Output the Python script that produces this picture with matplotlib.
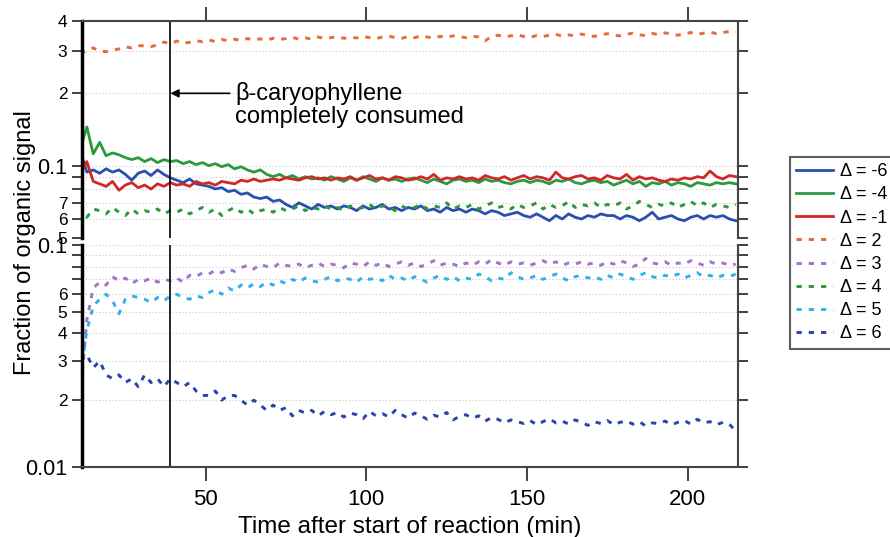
import numpy as np
import matplotlib
matplotlib.use("Agg")
import matplotlib.pyplot as plt
from matplotlib.ticker import FixedLocator, FixedFormatter, NullLocator

plt.rcParams['font.family'] = ['Liberation Sans', 'DejaVu Sans']

# time axis (min)
t = np.arange(11, 216, 2)

d_m6 = [0.115, 0.094, 0.096, 0.093, 0.097, 0.094, 0.096, 0.092, 0.087, 0.093,
        0.095, 0.091, 0.096, 0.092, 0.089, 0.087, 0.085, 0.088, 0.084, 0.083,
        0.082, 0.080, 0.081, 0.078, 0.079, 0.076, 0.077, 0.074, 0.073, 0.074,
        0.071, 0.072, 0.069, 0.067, 0.070, 0.068, 0.066, 0.069, 0.067, 0.068,
        0.066, 0.068, 0.067, 0.065, 0.068, 0.066, 0.067, 0.069, 0.066, 0.067,
        0.065, 0.067, 0.066, 0.068, 0.065, 0.066, 0.064, 0.067, 0.065, 0.066,
        0.064, 0.066, 0.065, 0.063, 0.065, 0.064, 0.062, 0.063, 0.064, 0.062,
        0.061, 0.063, 0.061, 0.059, 0.062, 0.060, 0.063, 0.061, 0.060, 0.062,
        0.061, 0.063, 0.062, 0.062, 0.060, 0.062, 0.061, 0.059, 0.061, 0.064,
        0.060, 0.061, 0.062, 0.060, 0.059, 0.061, 0.062, 0.060, 0.062, 0.061,
        0.062, 0.060, 0.059]
d_m4 = [0.118, 0.145, 0.112, 0.125, 0.110, 0.113, 0.111, 0.108, 0.106, 0.108,
        0.104, 0.107, 0.103, 0.106, 0.104, 0.105, 0.102, 0.104, 0.101, 0.103,
        0.100, 0.102, 0.099, 0.101, 0.097, 0.099, 0.096, 0.094, 0.096, 0.092,
        0.090, 0.092, 0.089, 0.091, 0.088, 0.090, 0.088, 0.089, 0.087, 0.090,
        0.088, 0.086, 0.089, 0.087, 0.090, 0.088, 0.086, 0.089, 0.087, 0.088,
        0.086, 0.088, 0.089, 0.087, 0.085, 0.088, 0.086, 0.084, 0.087, 0.088,
        0.086, 0.087, 0.085, 0.088, 0.086, 0.087, 0.085, 0.084, 0.086, 0.087,
        0.085, 0.087, 0.086, 0.084, 0.087, 0.086, 0.088, 0.085, 0.084, 0.086,
        0.087, 0.085, 0.086, 0.083, 0.085, 0.087, 0.084, 0.086, 0.082, 0.085,
        0.084, 0.086, 0.083, 0.085, 0.084, 0.082, 0.085, 0.084, 0.083, 0.085,
        0.084, 0.085, 0.084]
d_m1 = [0.092, 0.104, 0.086, 0.084, 0.082, 0.086, 0.079, 0.083, 0.085, 0.081,
        0.083, 0.080, 0.084, 0.082, 0.085, 0.083, 0.084, 0.082, 0.086, 0.084,
        0.085, 0.083, 0.086, 0.085, 0.084, 0.087, 0.086, 0.088, 0.086, 0.087,
        0.088, 0.087, 0.089, 0.088, 0.087, 0.089, 0.090, 0.088, 0.089, 0.087,
        0.089, 0.088, 0.090, 0.087, 0.089, 0.091, 0.088, 0.089, 0.087, 0.090,
        0.089, 0.087, 0.088, 0.090, 0.088, 0.092, 0.087, 0.089, 0.088, 0.090,
        0.088, 0.089, 0.087, 0.091, 0.089, 0.088, 0.090, 0.087, 0.089, 0.091,
        0.088, 0.090, 0.089, 0.087, 0.094, 0.089, 0.088, 0.090, 0.091, 0.088,
        0.089, 0.087, 0.091, 0.089, 0.088, 0.092, 0.087, 0.090, 0.088, 0.089,
        0.087, 0.086, 0.088, 0.087, 0.089, 0.088, 0.090, 0.089, 0.095, 0.090,
        0.088, 0.091, 0.090]
d_2 = [0.292, 0.302, 0.309, 0.300, 0.298, 0.303, 0.306, 0.312, 0.309, 0.316,
       0.315, 0.313, 0.318, 0.327, 0.322, 0.330, 0.323, 0.326, 0.331, 0.328,
       0.333, 0.329, 0.335, 0.331, 0.336, 0.332, 0.338, 0.334, 0.337, 0.333,
       0.339, 0.335, 0.338, 0.342, 0.336, 0.340, 0.337, 0.343, 0.338, 0.341,
       0.344, 0.339, 0.342, 0.340, 0.345, 0.341, 0.338, 0.343, 0.346, 0.341,
       0.339, 0.344, 0.341, 0.346, 0.343, 0.340, 0.345, 0.342, 0.347, 0.344,
       0.341, 0.346, 0.343, 0.331, 0.345, 0.349, 0.344, 0.347, 0.350, 0.345,
       0.342, 0.348, 0.345, 0.349, 0.352, 0.346, 0.350, 0.347, 0.353, 0.348,
       0.345, 0.351, 0.354, 0.349, 0.347, 0.352, 0.356, 0.350, 0.348, 0.355,
       0.351, 0.357, 0.353, 0.349, 0.355, 0.358, 0.352, 0.356, 0.360, 0.354,
       0.358, 0.362, 0.360]
d_3 = [0.021, 0.046, 0.064, 0.068, 0.066, 0.072, 0.069, 0.071, 0.067, 0.070,
       0.069, 0.071, 0.068, 0.070, 0.069, 0.071, 0.068, 0.073, 0.072, 0.075,
       0.074, 0.077, 0.075, 0.078, 0.076, 0.079, 0.081, 0.078, 0.082, 0.080,
       0.079, 0.083, 0.081, 0.080, 0.082, 0.079, 0.081, 0.083, 0.080, 0.082,
       0.081, 0.079, 0.083, 0.082, 0.080, 0.084, 0.081, 0.083, 0.080, 0.082,
       0.084, 0.081, 0.083, 0.080, 0.082, 0.085, 0.081, 0.083, 0.082, 0.080,
       0.083, 0.081, 0.084, 0.082, 0.086, 0.083, 0.081, 0.084, 0.082, 0.083,
       0.081, 0.083, 0.085, 0.082, 0.084, 0.081, 0.083, 0.082, 0.084, 0.082,
       0.083, 0.081, 0.084, 0.082, 0.085, 0.083, 0.080, 0.082, 0.087, 0.083,
       0.082, 0.084, 0.081, 0.083, 0.082, 0.085, 0.083, 0.081, 0.084, 0.082,
       0.083, 0.081, 0.082]
d_4 = [0.068, 0.061, 0.066, 0.065, 0.063, 0.067, 0.064, 0.062, 0.066, 0.063,
       0.065, 0.064, 0.066, 0.063, 0.065, 0.064, 0.066, 0.063, 0.065, 0.067,
       0.064, 0.066, 0.062, 0.065, 0.067, 0.064, 0.066, 0.063, 0.065, 0.066,
       0.064, 0.067, 0.065, 0.066, 0.068, 0.065, 0.067, 0.066, 0.068, 0.066,
       0.067, 0.065, 0.068, 0.066, 0.067, 0.069, 0.066, 0.068, 0.067, 0.065,
       0.068, 0.066, 0.067, 0.069, 0.066, 0.068, 0.067, 0.070, 0.066, 0.068,
       0.067, 0.069, 0.066, 0.068, 0.070, 0.067, 0.068, 0.066, 0.069, 0.067,
       0.068, 0.070, 0.066, 0.069, 0.067, 0.068, 0.071, 0.067, 0.069, 0.068,
       0.070, 0.067, 0.069, 0.068, 0.070, 0.066, 0.068, 0.071, 0.069, 0.067,
       0.069, 0.068, 0.070, 0.067, 0.069, 0.071, 0.068, 0.070, 0.067, 0.069,
       0.068, 0.067, 0.069]
d_5 = [0.026, 0.041, 0.053, 0.057, 0.060, 0.056, 0.049, 0.057, 0.059, 0.058,
       0.057, 0.055, 0.058, 0.056, 0.059, 0.060, 0.058, 0.057, 0.059, 0.058,
       0.061, 0.063, 0.060, 0.064, 0.062, 0.066, 0.064, 0.067, 0.065, 0.068,
       0.066, 0.069, 0.067, 0.070, 0.068, 0.071, 0.069, 0.068, 0.070, 0.072,
       0.069, 0.071, 0.070, 0.068, 0.072, 0.070, 0.071, 0.069, 0.073, 0.070,
       0.071, 0.069, 0.072, 0.070, 0.068, 0.071, 0.073, 0.070, 0.072, 0.069,
       0.071, 0.070, 0.074, 0.072, 0.069, 0.071, 0.070, 0.075, 0.072, 0.070,
       0.071, 0.073, 0.070, 0.072, 0.074, 0.071, 0.069, 0.072, 0.073, 0.071,
       0.072, 0.070, 0.073, 0.071, 0.074, 0.072, 0.070, 0.073, 0.075, 0.072,
       0.071, 0.073, 0.072, 0.074, 0.071, 0.073, 0.075, 0.072, 0.073, 0.071,
       0.073, 0.072, 0.074]
d_6 = [0.030, 0.032, 0.028, 0.030, 0.026, 0.025, 0.026, 0.024, 0.025, 0.023,
       0.026, 0.024, 0.025, 0.023, 0.025, 0.024, 0.023, 0.024, 0.022, 0.021,
       0.021, 0.022, 0.020, 0.021, 0.021, 0.020, 0.019, 0.020, 0.019, 0.018,
       0.019, 0.018, 0.0185, 0.017, 0.018, 0.0175, 0.018, 0.017, 0.0178, 0.0172,
       0.0176, 0.0168, 0.0175, 0.0172, 0.0165, 0.0178, 0.0170, 0.0174, 0.0168, 0.0180,
       0.0172, 0.0166, 0.0175, 0.0170, 0.0164, 0.0171, 0.0168, 0.0176, 0.0163, 0.0169,
       0.0172, 0.0166, 0.0170, 0.0161, 0.0167, 0.0164, 0.0158, 0.0163, 0.0160, 0.0157,
       0.0162, 0.0155, 0.0160, 0.0165, 0.0158, 0.0161, 0.0156, 0.0163, 0.0159, 0.0154,
       0.0160, 0.0157, 0.0162, 0.0155, 0.0159, 0.0161, 0.0156, 0.0160, 0.0153, 0.0158,
       0.0157, 0.0161, 0.0155, 0.0159, 0.0162, 0.0156, 0.0164, 0.0158, 0.0160, 0.0155,
       0.0159, 0.0156, 0.0145]

labels = ['Δ = -6', 'Δ = -4', 'Δ = -1', 'Δ = 2', 'Δ = 3', 'Δ = 4', 'Δ = 5', 'Δ = 6']
colors = ['#2b4fae', '#2a9a3c', '#d02828', '#e66a3a', '#a374c8', '#2a9a3c', '#35b1ea', '#2a45aa']
series = [d_m6, d_m4, d_m1, d_2, d_3, d_4, d_5, d_6]
dashed = [False, False, False, True, True, True, True, True]
top_panel = [True, True, True, True, False, True, False, False]

fig = plt.figure(figsize=(8.9, 5.37), dpi=100)
ax_top = fig.add_axes([82/890, 1-238/537, 656/890, 217/537])
ax_bot = fig.add_axes([82/890, 1-467/537, 656/890, 222/537])

handles = []
for y, lab, c, d, top in zip(series, labels, colors, dashed, top_panel):
    ax = ax_top if top else ax_bot
    if d:
        ln, = ax.plot(t, y, color=c, lw=2.1, dashes=(1.8, 2.4), label=lab)
    else:
        ln, = ax.plot(t, y, color=c, lw=2.0, label=lab)
    handles.append(ln)

for ax in (ax_top, ax_bot):
    ax.set_yscale('log')
    ax.set_xlim(11.5, 215.7)
    ax.axvline(39, color='black', lw=1.2)
    ax.grid(axis='y', which='both', color='#c8c8c8', linestyle=(0, (1, 2)), lw=0.8)
    for s in ('top', 'bottom', 'right'):
        ax.spines[s].set_color('#444444')
        ax.spines[s].set_linewidth(1.5)
    ax.spines['left'].set_color('black')
    ax.spines['left'].set_linewidth(2.5)
    ax.tick_params(axis='y', which='both', direction='out', left=True, right=True,
                   length=7, width=1.3, color='#333333', labelsize=12.5)
    ax.yaxis.set_minor_locator(NullLocator())
    ax.xaxis.set_major_locator(FixedLocator([50, 100, 150, 200]))

ax_top.set_ylim(0.05, 0.4)
top_ticks = [0.05, 0.06, 0.07, 0.08, 0.09, 0.1, 0.2, 0.3, 0.4]
top_lbls = ['5', '6', '7', '', '', '0.1', '2', '3', '4']
ax_top.yaxis.set_major_locator(FixedLocator(top_ticks))
ax_top.yaxis.set_major_formatter(FixedFormatter(top_lbls))
ax_top.spines['bottom'].set_visible(False)
ax_top.tick_params(axis='x', which='both', bottom=False, top=True, labelbottom=False,
                   direction='out', length=10, width=1.3, color='#333333')

ax_bot.set_ylim(0.01, 0.1)
bot_ticks = [0.01, 0.02, 0.03, 0.04, 0.05, 0.06, 0.07, 0.08, 0.09, 0.1]
bot_lbls = ['0.01', '2', '3', '4', '5', '6', '', '', '', '0.1']
ax_bot.yaxis.set_major_locator(FixedLocator(bot_ticks))
ax_bot.yaxis.set_major_formatter(FixedFormatter(bot_lbls))
ax_bot.spines['top'].set_visible(False)
ax_bot.tick_params(axis='x', which='both', bottom=True, top=False, direction='out',
                   length=10, width=1.3, color='#333333', labelsize=16, pad=6)

for ax in (ax_top, ax_bot):
    for lbl in ax.get_yticklabels():
        if lbl.get_text() in ('0.1', '0.01'):
            lbl.set_fontsize(15.5)

ax_bot.set_xlabel('Time after start of reaction (min)', fontsize=17.5, labelpad=4)
fig.text(0.028, 1-243/537, 'Fraction of organic signal', rotation=90,
         fontsize=17, ha='center', va='center')

ax_top.annotate('', xy=(39, 0.2), xytext=(57.5, 0.2),
                arrowprops=dict(arrowstyle='-|>', color='black', lw=1.2,
                                mutation_scale=12, shrinkA=0, shrinkB=0))
fig.text(235/890, 1-105/537, 'β-caryophyllene\ncompletely consumed', fontsize=17,
         ha='left', va='center', linespacing=1.1)

leg = fig.legend(handles=handles, loc='upper left',
                 bbox_to_anchor=(790/890, 1-157/537), fontsize=13,
                 frameon=True, fancybox=False, handlelength=2.05,
                 borderpad=0.35, labelspacing=0.34, handletextpad=0.35,
                 borderaxespad=0)
leg.get_frame().set_edgecolor('#333333')
leg.get_frame().set_linewidth(1.5)

fig.savefig('out.png', dpi=100)
